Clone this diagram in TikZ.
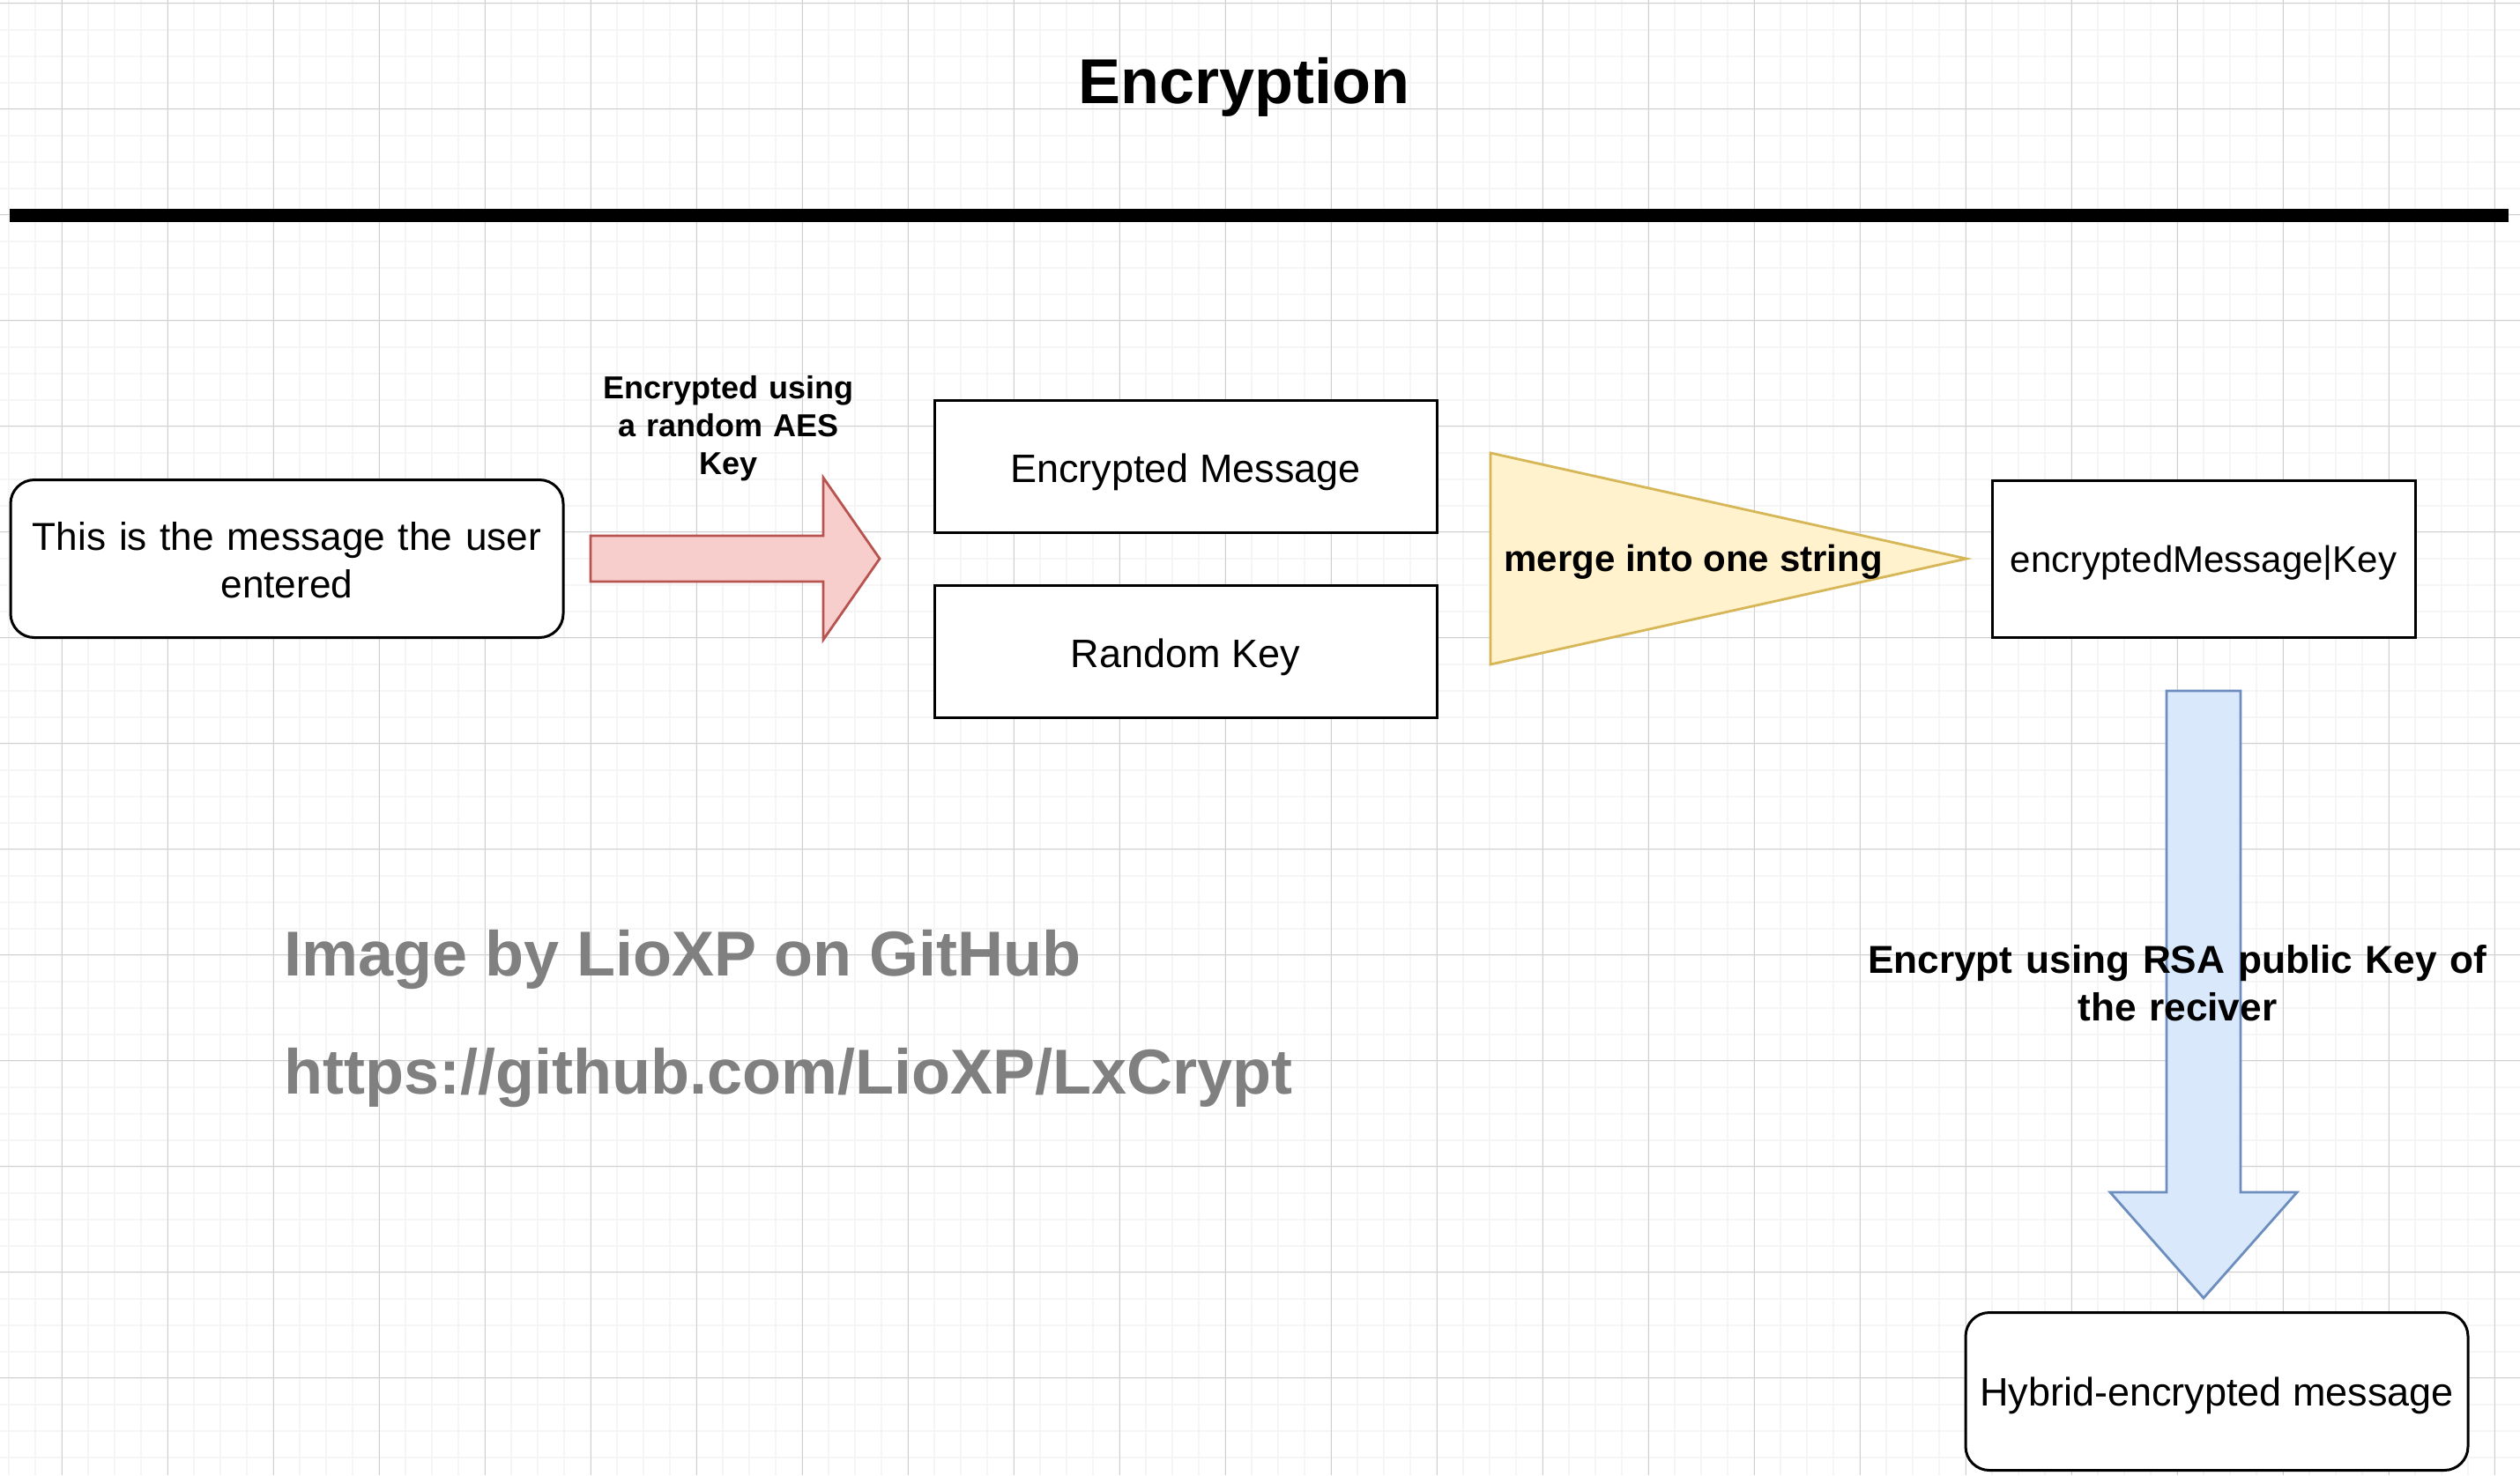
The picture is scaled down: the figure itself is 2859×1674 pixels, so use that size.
\documentclass[tikz,border=0pt]{standalone}
\usepackage{fontspec}
\setmainfont{Liberation Sans}
\newcommand\fntM{\fontsize{11.25}{13.5}\selectfont}
\newcommand\fntU{\fontsize{11.05}{13.5}\selectfont}
\newcommand\fntS{\fontsize{10.5}{12.6}\selectfont}
\newcommand\fntAES{\fontsize{9}{10.8}\selectfont\bfseries}
\newcommand\fntMerge{\fontsize{10.5}{12.6}\selectfont\bfseries}
\newcommand\fntRSA{\fontsize{11.05}{13.5}\selectfont\bfseries}
\newcommand\fntBig{\fontsize{18}{21.6}\selectfont\bfseries}
\definecolor{redfill}{HTML}{F8CECC}
\definecolor{redline}{HTML}{B85450}
\definecolor{bluefill}{HTML}{DAE8FC}
\definecolor{blueline}{HTML}{6C8EBF}
\definecolor{yelfill}{HTML}{FFF2CC}
\definecolor{yelline}{HTML}{D6B656}
\definecolor{wmgray}{HTML}{808080}
\begin{document}
\begin{tikzpicture}[x=0.25pt,y=-0.25pt,
  gridminor/.style={draw=black!4, line width=0.5pt},
  gridmajor/.style={draw=black!19, line width=0.375pt},
  boxnode/.style={draw=black, fill=white, line width=0.75pt, inner sep=0pt, align=center, text depth=0pt},
  roundbox/.style={boxnode, rounded corners=6.75pt},
  lbl/.style={inner sep=0pt, align=center},
  wmtext/.style={inner sep=0pt, text=wmgray, font=\fntBig},
  redarrow/.style={draw=redline, fill=redfill, line width=0.7pt},
  bluearrow/.style={draw=blueline, fill=bluefill, line width=0.7pt},
  yeltri/.style={draw=yelline, fill=yelfill, line width=0.7pt, line join=miter}
]
\fill[white] (0,0) rectangle (2859,1674);
\useasboundingbox (0,0) rectangle (2859,1674);
% grid
\foreach \i in {0,...,94} \draw[gridminor] ({10.3+30*\i},0) -- ({10.3+30*\i},1674);
\foreach \j in {0,...,55} \draw[gridminor] (0,{3.7+30*\j}) -- (2859,{3.7+30*\j});
\foreach \i in {0,...,23} \draw[gridmajor] ({70.3+120*\i},0) -- ({70.3+120*\i},1674);
\foreach \j in {0,...,13} \draw[gridmajor] (0,{3.7+120*\j}) -- (2859,{3.7+120*\j});

% title and rule
\node[lbl, font=\fntBig, anchor=base] (title) at (1411.8,117.3) {Encryption};
\coordinate (ruleL) at (11,244.5);
\coordinate (ruleR) at (2846,244.5);
\draw[line width=3.75pt] (ruleL) -- (ruleR);

% boxes
\node[roundbox, minimum width=156.75pt, minimum height=44.75pt, text width=150pt,
      text height=0pt, text depth=4.75pt, font=\fntU] (user) at (325.5,634)
      {This is the message the user\\entered};
\node[boxnode, minimum width=142.5pt, minimum height=37.5pt, text height=9.2pt, font=\fntM] (encmsg) at (1345,529) {Encrypted Message};
\node[boxnode, minimum width=142.5pt, minimum height=37.5pt, text height=9.2pt, font=\fntM] (rndkey) at (1345,739.5) {Random Key};
\node[boxnode, minimum width=120pt, minimum height=44.5pt, font=\fntS] (merged) at (2500,634) {encryptedMessage|Key};
\node[roundbox, minimum width=142.5pt, minimum height=44.75pt, font=\fntM] (hybrid) at (2515,1579) {Hybrid-encrypted message};

% block arrows
\draw[redarrow] (670,608) -- (934,608) -- (934,542) -- (998,634) -- (934,726) -- (934,660) -- (670,660) -- cycle;
\draw[yeltri] (1691,514) -- (2231,634) -- (1691,754) -- cycle;
\draw[bluearrow] (2458,784) -- (2542,784) -- (2542,1353) -- (2606,1353) -- (2500,1473) -- (2394,1353) -- (2458,1353) -- cycle;

% labels
\node[lbl, text width=80pt, font=\fntAES, anchor=base] (aeslabel) at (826.5,452.5) {Encrypted using\\a random AES\\Key};
\node[lbl, font=\fntMerge, anchor=base] (mergelabel) at (1921,648.3) {merge into one string};
\node[lbl, text width=190pt, font=\fntRSA, anchor=base] (rsalabel) at (2470.3,1104.7) {Encrypt using RSA public Key of\\the reciver};

% watermark
\node[wmtext, anchor=base west] (wm1) at (322,1107.3) {Image by LioXP on GitHub};
\node[wmtext, anchor=base west] (wm2) at (322,1241.7) {https://github.com/LioXP/LxCrypt};
\end{tikzpicture}
\end{document}
